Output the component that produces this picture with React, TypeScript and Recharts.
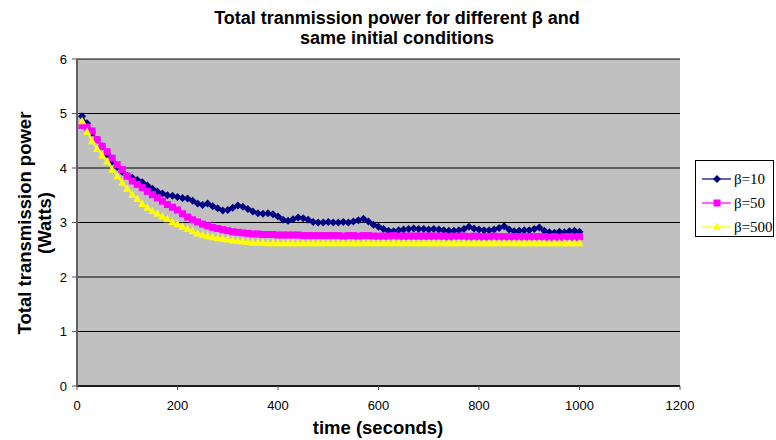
import React from 'react';
import { LineChart, Line, XAxis, YAxis, CartesianGrid } from 'recharts';

// time in seconds
const time = [
  10, 20, 30, 40, 50, 60, 70, 80, 90, 100,
  110, 120, 130, 140, 150, 160, 170, 180, 190, 200,
  210, 220, 230, 240, 250, 260, 270, 280, 290, 300,
  310, 320, 330, 340, 350, 360, 370, 380, 390, 400,
  410, 420, 430, 440, 450, 460, 470, 480, 490, 500,
  510, 520, 530, 540, 550, 560, 570, 580, 590, 600,
  610, 620, 630, 640, 650, 660, 670, 680, 690, 700,
  710, 720, 730, 740, 750, 760, 770, 780, 790, 800,
  810, 820, 830, 840, 850, 860, 870, 880, 890, 900,
  910, 920, 930, 940, 950, 960, 970, 980, 990, 1000,
];

const beta10 = [
  4.95, 4.82, 4.65, 4.52, 4.40, 4.25, 4.12, 4.02, 3.93, 3.86,
  3.82, 3.78, 3.74, 3.68, 3.62, 3.57, 3.53, 3.50, 3.49, 3.47,
  3.45, 3.44, 3.40, 3.35, 3.32, 3.35, 3.30, 3.26, 3.22, 3.23,
  3.27, 3.31, 3.29, 3.25, 3.20, 3.17, 3.16, 3.17, 3.15, 3.11,
  3.05, 3.03, 3.06, 3.09, 3.08, 3.05, 3.01, 3.00, 3.00, 3.01,
  3.00, 3.00, 3.01, 3.00, 3.02, 3.04, 3.07, 3.02, 2.96, 2.92,
  2.88, 2.85, 2.84, 2.86, 2.87, 2.88, 2.89, 2.88, 2.88, 2.87,
  2.88, 2.87, 2.86, 2.85, 2.85, 2.86, 2.88, 2.92, 2.89, 2.87,
  2.86, 2.86, 2.87, 2.90, 2.93, 2.87, 2.84, 2.85, 2.86, 2.86,
  2.88, 2.91, 2.85, 2.82, 2.81, 2.83, 2.82, 2.84, 2.85, 2.83,
];

const beta50 = [
  4.78, 4.75, 4.68, 4.52, 4.40, 4.30, 4.18, 4.06, 3.97, 3.85,
  3.76, 3.70, 3.64, 3.57, 3.51, 3.45, 3.39, 3.33, 3.28, 3.23,
  3.16, 3.10, 3.05, 3.01, 2.97, 2.94, 2.91, 2.89, 2.87, 2.85,
  2.83, 2.82, 2.81, 2.80, 2.79, 2.79, 2.78, 2.78, 2.78, 2.77,
  2.77, 2.77, 2.77, 2.77, 2.76, 2.76, 2.76, 2.76, 2.76, 2.76,
  2.76, 2.76, 2.75, 2.76, 2.76, 2.75, 2.76, 2.76, 2.75, 2.75,
  2.75, 2.75, 2.76, 2.75, 2.75, 2.75, 2.75, 2.75, 2.75, 2.75,
  2.75, 2.75, 2.75, 2.74, 2.75, 2.75, 2.75, 2.74, 2.75, 2.74,
  2.74, 2.74, 2.75, 2.74, 2.74, 2.74, 2.74, 2.74, 2.74, 2.74,
  2.74, 2.74, 2.74, 2.73, 2.74, 2.73, 2.74, 2.74, 2.73, 2.74,
];

const beta500 = [
  4.86, 4.66, 4.49, 4.35, 4.23, 4.12, 3.97, 3.85, 3.73, 3.62,
  3.51, 3.43, 3.34, 3.27, 3.21, 3.16, 3.11, 3.06, 3.01, 2.97,
  2.92, 2.88, 2.84, 2.80, 2.77, 2.75, 2.73, 2.71, 2.70, 2.69,
  2.67, 2.66, 2.65, 2.64, 2.63, 2.63, 2.63, 2.62, 2.62, 2.62,
  2.62, 2.62, 2.62, 2.62, 2.62, 2.62, 2.62, 2.62, 2.62, 2.62,
  2.62, 2.62, 2.62, 2.62, 2.62, 2.62, 2.62, 2.62, 2.62, 2.62,
  2.62, 2.62, 2.62, 2.62, 2.62, 2.62, 2.62, 2.62, 2.62, 2.62,
  2.62, 2.62, 2.62, 2.62, 2.62, 2.62, 2.62, 2.62, 2.62, 2.62,
  2.62, 2.62, 2.62, 2.62, 2.62, 2.62, 2.62, 2.62, 2.62, 2.62,
  2.62, 2.62, 2.62, 2.62, 2.62, 2.62, 2.62, 2.62, 2.62, 2.62,
];

const xTicks = [0, 200, 400, 600, 800, 1000, 1200];
const yTicks = [0, 1, 2, 3, 4, 5, 6];

const NAVY = '#000080';
const MAGENTA = '#ff00ff';
const YELLOW = '#ffff00';

const data = time.map((t, i) => ({ t, b10: beta10[i], b50: beta50[i], b500: beta500[i] }));

const Diamond = (props: any) => {
  const { cx, cy } = props;
  if (cx == null || cy == null) return null;
  return (
    <polygon
      points={`${cx},${cy - 4} ${cx + 4},${cy} ${cx},${cy + 4} ${cx - 4},${cy}`}
      fill={NAVY}
    />
  );
};

const Square = (props: any) => {
  const { cx, cy } = props;
  if (cx == null || cy == null) return null;
  return <rect x={cx - 3.5} y={cy - 3.5} width={7} height={7} fill={MAGENTA} />;
};

const Triangle = (props: any) => {
  const { cx, cy } = props;
  if (cx == null || cy == null) return null;
  return (
    <polygon
      points={`${cx},${cy - 4.5} ${cx + 4},${cy + 3} ${cx - 4},${cy + 3}`}
      fill={YELLOW}
    />
  );
};

const font = '"Liberation Sans", Arial, sans-serif';
const tickStyle = { fontFamily: font, fontSize: 13, fill: '#000' };

const legendItems = [
  { label: 'β=10', color: NAVY, marker: 'diamond' },
  { label: 'β=50', color: MAGENTA, marker: 'square' },
  { label: 'β=500', color: YELLOW, marker: 'triangle' },
];

const LegendMarker = ({ color, marker }: { color: string; marker: string }) => (
  <svg width={30} height={10} style={{ display: 'block' }}>
    <line x1={0} y1={5} x2={29} y2={5} stroke={color} strokeWidth={1.2} />
    {marker === 'diamond' && <polygon points="15,1 19,5 15,9 11,5" fill={color} />}
    {marker === 'square' && <rect x={11.5} y={1.5} width={7} height={7} fill={color} />}
    {marker === 'triangle' && <polygon points="15,0.5 19,8 11,8" fill={color} />}
  </svg>
);

export default function App() {
  return (
    <div
      style={{
        position: 'absolute',
        left: 0,
        top: 0,
        width: 776,
        height: 440,
        background: '#fff',
        overflow: 'hidden',
      }}
    >
      <div
        style={{
          position: 'absolute',
          left: 97,
          top: 8,
          width: 600,
          textAlign: 'center',
          fontFamily: font,
          fontWeight: 'bold',
          fontSize: 18,
          lineHeight: '20px',
        }}
      >
        Total tranmission power for different β and
        <br />
        same initial conditions
      </div>

      <LineChart
        width={776}
        height={440}
        data={data}
        margin={{ top: 59, right: 96, bottom: 24, left: 0 }}
      >
        <CartesianGrid vertical={false} stroke="#000" fill="#c0c0c0" fillOpacity={1} />
        <XAxis
          dataKey="t"
          type="number"
          domain={[0, 1200]}
          ticks={xTicks}
          height={30}
          tick={tickStyle}
          tickSize={4}
          tickMargin={11}
          axisLine={{ stroke: '#000', strokeWidth: 1.5 }}
          tickLine={{ stroke: '#555' }}
        />
        <XAxis
          xAxisId="top"
          orientation="top"
          dataKey="t"
          type="number"
          domain={[0, 1200]}
          height={0}
          tick={false}
          tickLine={false}
          axisLine={{ stroke: '#808080' }}
        />
        <YAxis
          domain={[0, 6]}
          ticks={yTicks}
          width={77}
          tick={tickStyle}
          tickSize={5}
          tickMargin={5}
          axisLine={{ stroke: '#606060', strokeWidth: 2 }}
          tickLine={{ stroke: '#555' }}
        />
        <YAxis
          yAxisId="right"
          orientation="right"
          domain={[0, 6]}
          width={0}
          tick={false}
          tickLine={false}
          axisLine={{ stroke: '#808080' }}
        />
        <Line
          dataKey="b10"
          stroke={NAVY}
          strokeWidth={1.5}
          dot={<Diamond />}
          activeDot={false}
          isAnimationActive={false}
        />
        <Line
          dataKey="b50"
          stroke={MAGENTA}
          strokeWidth={1.5}
          dot={<Square />}
          activeDot={false}
          isAnimationActive={false}
        />
        <Line
          dataKey="b500"
          stroke={YELLOW}
          strokeWidth={1.5}
          dot={<Triangle />}
          activeDot={false}
          isAnimationActive={false}
        />
      </LineChart>

      <div
        style={{
          position: 'absolute',
          left: 35 - 150,
          top: 222.5 - 20,
          width: 300,
          height: 40,
          transform: 'rotate(-90deg)',
          textAlign: 'center',
          fontFamily: font,
          fontWeight: 'bold',
          fontSize: 18.5,
          lineHeight: '20px',
        }}
      >
        Total transmission power
        <br />
        (Watts)
      </div>

      <div
        style={{
          position: 'absolute',
          left: 378 - 150,
          top: 417,
          width: 300,
          textAlign: 'center',
          fontFamily: font,
          fontWeight: 'bold',
          fontSize: 18.5,
          lineHeight: '22px',
        }}
      >
        time (seconds)
      </div>

      <div
        style={{
          position: 'absolute',
          left: 695,
          top: 160,
          width: 79,
          height: 77,
          border: '1px solid #000',
          background: '#fff',
          boxSizing: 'border-box',
          paddingTop: 7,
        }}
      >
        {legendItems.map((it) => (
          <div
            key={it.label}
            style={{ display: 'flex', alignItems: 'center', height: 26, marginTop: -2 }}
          >
            <div style={{ marginLeft: 6 }}>
              <LegendMarker color={it.color} marker={it.marker} />
            </div>
            <span
              style={{
                marginLeft: 2,
                fontFamily: '"Liberation Serif", "Times New Roman", serif',
                fontSize: 15,
                lineHeight: '15px',
              }}
            >
              {it.label}
            </span>
          </div>
        ))}
      </div>
    </div>
  );
}
